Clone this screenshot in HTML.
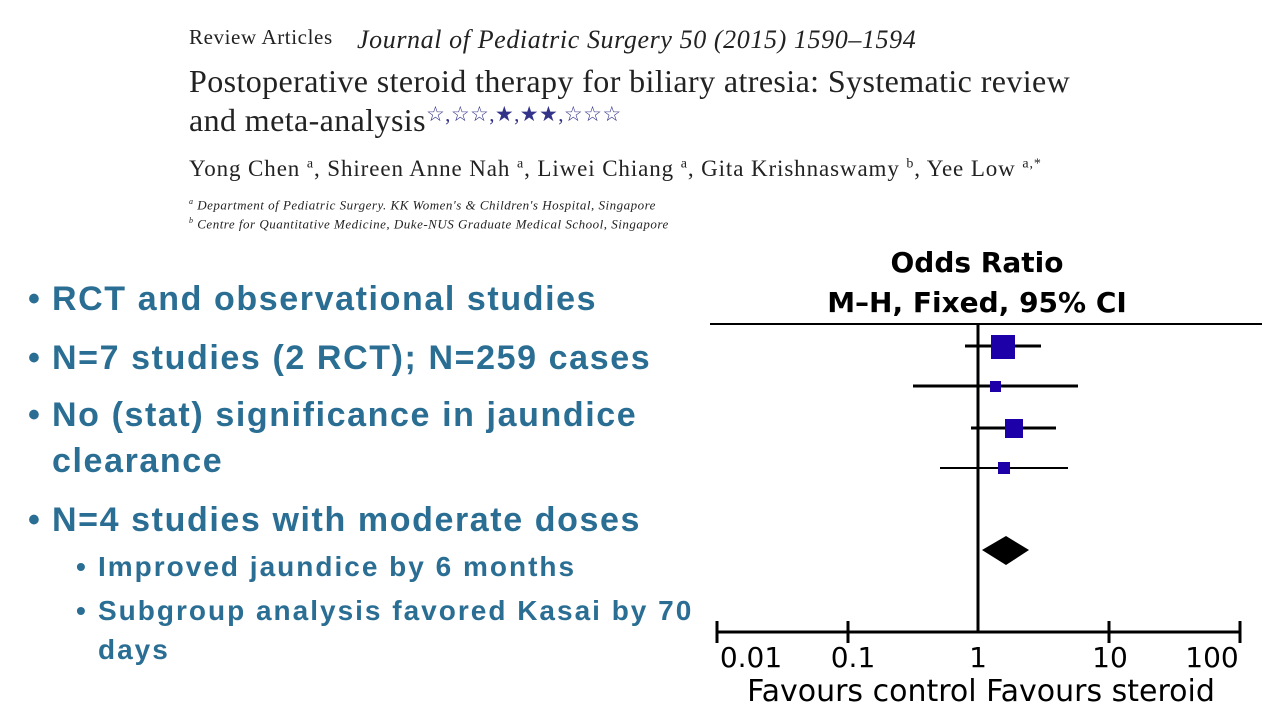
<!DOCTYPE html>
<html><head><meta charset="utf-8"><style>
body{margin:0;width:1265px;height:714px;background:#fff;position:relative;overflow:hidden}
.t{position:absolute;white-space:nowrap;line-height:1}
.s{font-family:"Liberation Serif",serif;color:#222}
.b{font-family:"Liberation Sans",sans-serif;font-weight:bold;color:#2b6e94}
.L{font-size:34px;letter-spacing:1.6px}
.M{font-size:28px;letter-spacing:2px}
</style></head><body>
<div class="t s" style="left:189px;top:27px;font-size:21px;letter-spacing:0.6px">Review Articles</div>
<div class="t s" style="left:357px;top:27px;font-size:26px;font-style:italic;letter-spacing:0.6px">Journal of Pediatric Surgery 50 (2015) 1590–1594</div>
<div class="t s" style="left:189px;top:65px;font-size:32px;letter-spacing:0.4px">Postoperative steroid therapy for biliary atresia: Systematic review</div>
<div class="t s" style="left:189px;top:104px;font-size:32px;letter-spacing:0.4px">and meta-analysis<span style="font-size:21px;vertical-align:10px;color:#33338a">☆,☆☆,★,★★,☆☆☆</span></div>
<div class="t s" style="left:189px;top:157px;font-size:23px;letter-spacing:0.9px">Yong Chen <sup style="font-size:14px">a</sup>, Shireen Anne Nah <sup style="font-size:14px">a</sup>, Liwei Chiang <sup style="font-size:14px">a</sup>, Gita Krishnaswamy <sup style="font-size:14px">b</sup>, Yee Low <sup style="font-size:14px">a,*</sup></div>
<div class="t s" style="left:189px;top:198px;font-size:13px;font-style:italic;letter-spacing:0.5px"><sup style="font-size:8px">a</sup> Department of Pediatric Surgery. KK Women's &amp; Children's Hospital, Singapore</div>
<div class="t s" style="left:189px;top:217px;font-size:13px;font-style:italic;letter-spacing:0.5px"><sup style="font-size:8px">b</sup> Centre for Quantitative Medicine, Duke-NUS Graduate Medical School, Singapore</div>

<div class="t b L" style="left:28px;top:282px">•</div><div class="t b L" style="left:52px;top:282px">RCT and observational studies</div>
<div class="t b L" style="left:28px;top:341px">•</div><div class="t b L" style="left:52px;top:341px">N=7 studies (2 RCT); N=259 cases</div>
<div class="t b L" style="left:28px;top:398px">•</div><div class="t b L" style="left:52px;top:398px">No (stat) significance in jaundice</div>
<div class="t b L" style="left:52px;top:444px">clearance</div>
<div class="t b L" style="left:28px;top:503px">•</div><div class="t b L" style="left:52px;top:503px">N=4 studies with moderate doses</div>
<div class="t b M" style="left:76px;top:553px">•</div><div class="t b M" style="left:98px;top:553px">Improved jaundice by 6 months</div>
<div class="t b M" style="left:76px;top:597px">•</div><div class="t b M" style="left:98px;top:597px">Subgroup analysis favored Kasai by 70</div>
<div class="t b M" style="left:98px;top:636px">days</div>

<svg style="position:absolute;left:0;top:0" width="1265" height="714">
<g font-family="DejaVu Sans,Liberation Sans,sans-serif" text-anchor="middle">
<text x="977" y="272" font-size="28" font-weight="bold">Odds Ratio</text>
<text x="977" y="312" font-size="28" font-weight="bold">M–H, Fixed, 95% CI</text>
<text x="751" y="667" font-size="28">0.01</text>
<text x="853" y="667" font-size="28">0.1</text>
<text x="978" y="667" font-size="28">1</text>
<text x="1110" y="667" font-size="28">10</text>
<text x="1212" y="667" font-size="28">100</text>
<text x="981" y="701" font-size="30">Favours control  Favours steroid</text>
</g>
<line x1="710" y1="324" x2="1262" y2="324" stroke="#000" stroke-width="2"/>
<line x1="978" y1="324" x2="978" y2="633" stroke="#000" stroke-width="3"/>
<line x1="717" y1="632" x2="1241" y2="632" stroke="#000" stroke-width="3"/>
<g stroke="#000" stroke-width="3">
<line x1="717" y1="621" x2="717" y2="643"/><line x1="848" y1="621" x2="848" y2="643"/>
<line x1="1109" y1="621" x2="1109" y2="643"/><line x1="1240" y1="621" x2="1240" y2="643"/>
<line x1="965" y1="346" x2="1041" y2="346"/>
<line x1="913" y1="386" x2="1078" y2="386"/>
<line x1="971" y1="428" x2="1056" y2="428"/>
<line x1="940" y1="468" x2="1068" y2="468" stroke-width="2"/>
</g>
<g fill="#1e00a8">
<rect x="991" y="335" width="24" height="24"/>
<rect x="990" y="381" width="11" height="11"/>
<rect x="1005" y="419" width="18" height="19"/>
<rect x="998" y="462" width="12" height="12"/>
</g>
<polygon points="982,550 1006,536 1029,550 1006,565" fill="#000"/>
</svg>
</body></html>
